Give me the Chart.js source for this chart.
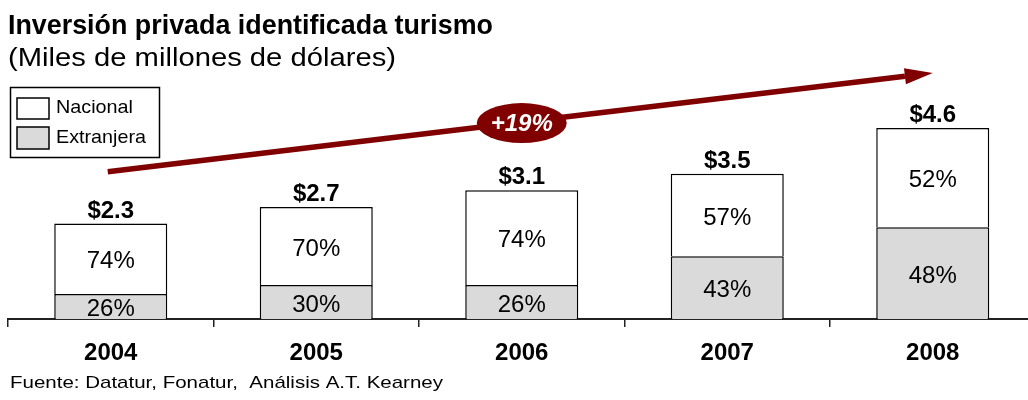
<!DOCTYPE html>
<html>
<head>
<meta charset="utf-8">
<script src="https://cdn.jsdelivr.net/npm/chart.js@4/dist/chart.umd.min.js"></script>
<style>
  html, body { margin: 0; padding: 0; background: #fff; overflow: hidden; }
  canvas { display: block; }
</style>
</head>
<body>
<canvas id="myChart" width="1040" height="400"></canvas>
<script>
const years = ["2004", "2005", "2006", "2007", "2008"]
const totals = ["$2.3", "$2.7", "$3.1", "$3.5", "$4.6"]
// segment values in miles de millones
const extranjera = [0.60, 0.82, 0.82, 1.51, 2.21]
const nacional = [1.70, 1.88, 2.28, 1.99, 2.39]
const extranjeraPct = ["26%", "30%", "26%", "43%", "48%"]
const nacionalPct = ["74%", "70%", "74%", "57%", "52%"]
const growthLabel = "+19%"

const FONT = "'Liberation Sans', Arial, sans-serif"
const DARK_RED = "#800000"
const GREY = "#dadada"

// draw text squeezed/stretched to a given width
function fitText(ctx, text, x, y, width) {
  const w = ctx.measureText(text).width
  ctx.save()
  ctx.translate(x, y)
  ctx.scale(width / w, 1)
  ctx.fillText(text, 0, 0)
  ctx.restore()
}

const labelsPlugin = {
  id: "labels",
  afterDatasetsDraw(chart) {
    const ctx = chart.ctx
    ctx.save()
    ctx.fillStyle = "#000"
    ctx.textAlign = "center"
    ctx.textBaseline = "middle"
    ctx.font = "24px " + FONT
    const pcts = [extranjeraPct, nacionalPct]
    pcts.forEach((list, d) => {
      chart.getDatasetMeta(d).data.forEach((bar, i) => {
        ctx.fillText(list[i], bar.x, (bar.y + bar.base) / 2 + 3)
      })
    })
    ctx.font = "bold 24px " + FONT
    ctx.textBaseline = "alphabetic"
    chart.getDatasetMeta(1).data.forEach((bar, i) => {
      ctx.fillText(totals[i], bar.x, bar.y - 6)
    })
    ctx.restore()
  },
  afterDraw(chart) {
    const ctx = chart.ctx
    const x = chart.scales.x
    const y = chart.scales.y

    // headings
    ctx.save()
    ctx.fillStyle = "#000"
    ctx.textAlign = "left"
    ctx.textBaseline = "alphabetic"
    ctx.font = "bold 28px " + FONT
    fitText(ctx, "Inversión privada identificada turismo", 8, 34, 485)
    ctx.font = "25px " + FONT
    fitText(ctx, "(Miles de millones de dólares)", 8, 66, 388)
    ctx.font = "17px " + FONT
    fitText(ctx, "Fuente: Datatur, Fonatur,  Análisis A.T. Kearney", 10, 388, 433)

    // legend
    ctx.lineWidth = 1.5
    ctx.strokeStyle = "#000"
    ctx.strokeRect(10.5, 87.5, 149, 70)
    ctx.fillStyle = "#fff"
    ctx.fillRect(17, 98, 32, 21)
    ctx.strokeRect(17, 98, 32, 21)
    ctx.fillStyle = GREY
    ctx.fillRect(17, 127, 32, 22)
    ctx.strokeRect(17, 127, 32, 22)
    ctx.fillStyle = "#000"
    ctx.font = "19px " + FONT
    ctx.textBaseline = "middle"
    fitText(ctx, "Nacional", 56, 108, 77)
    fitText(ctx, "Extranjera", 56, 138, 90)
    ctx.restore()

    // growth arrow
    const x0 = x.getPixelForValue(0) - 3
    const y0 = y.getPixelForValue(3.55)
    const x1 = x.getPixelForValue(4)
    const y1 = y.getPixelForValue(5.93)
    const ang = Math.atan2(y1 - y0, x1 - x0)
    const headLen = 28
    const bx = x1 - headLen * Math.cos(ang)
    const by = y1 - headLen * Math.sin(ang)
    ctx.save()
    ctx.strokeStyle = DARK_RED
    ctx.fillStyle = DARK_RED
    ctx.lineWidth = 5.5
    ctx.beginPath()
    ctx.moveTo(x0, y0)
    ctx.lineTo(bx, by)
    ctx.stroke()
    ctx.beginPath()
    ctx.moveTo(x1, y1)
    ctx.lineTo(bx + 8 * Math.sin(ang), by - 8 * Math.cos(ang))
    ctx.lineTo(bx - 8 * Math.sin(ang), by + 8 * Math.cos(ang))
    ctx.closePath()
    ctx.fill()

    // growth bubble
    const cx = x.getPixelForValue(2)
    const cy = y.getPixelForValue(4.72)
    ctx.beginPath()
    ctx.ellipse(cx, cy, 45, 20, 0, 0, Math.PI * 2)
    ctx.fill()
    ctx.fillStyle = "#fff"
    ctx.font = "italic bold 24px " + FONT
    ctx.textAlign = "center"
    ctx.textBaseline = "middle"
    ctx.fillText(growthLabel, cx, cy + 1)
    ctx.restore()
  }
}

const ctx = document.getElementById("myChart")
const myChart = new Chart(ctx, {
  type: "bar",
  data: {
    labels: years,
    datasets: [
      {
        label: "Extranjera",
        data: extranjera,
        backgroundColor: GREY,
        borderColor: "#000",
        borderWidth: { top: 1.5, left: 1.5, right: 1.5, bottom: 0 },
        borderSkipped: false
      },
      {
        label: "Nacional",
        data: nacional,
        backgroundColor: "#fff",
        borderColor: "#000",
        borderWidth: { top: 1.5, left: 1.5, right: 1.5, bottom: 0 },
        borderSkipped: false
      }
    ]
  },
  options: {
    responsive: false,
    animation: false,
    devicePixelRatio: 1,
    barPercentage: 1,
    categoryPercentage: 0.55,
    layout: {
      padding: { left: 8, right: 4.5, top: 70, bottom: 31 }
    },
    plugins: {
      legend: { display: false },
      tooltip: { enabled: false }
    },
    scales: {
      x: {
        stacked: true,
        afterFit(scale) { scale.height = 50 },
        grid: {
          offset: true,
          drawOnChartArea: false,
          drawTicks: true,
          tickLength: 8,
          color: "#222",
          lineWidth: 1.5
        },
        border: { display: true, color: "#222", width: 2 },
        ticks: {
          color: "#000",
          padding: 12,
          font: { family: FONT, size: 24, weight: "bold" }
        }
      },
      y: {
        stacked: true,
        display: false,
        min: 0,
        max: 6
      }
    }
  },
  plugins: [labelsPlugin]
})
</script>
</body>
</html>
